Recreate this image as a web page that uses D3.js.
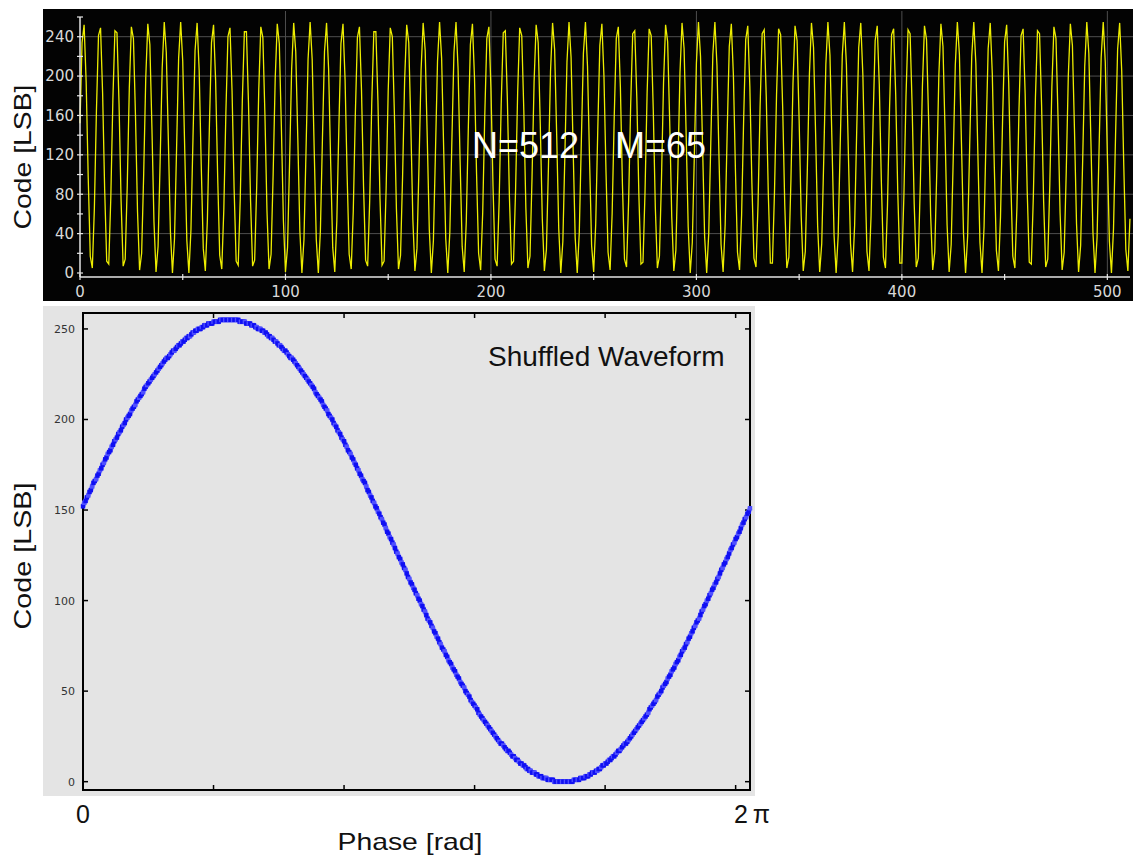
<!DOCTYPE html>
<html>
<head>
<meta charset="utf-8">
<script src="https://cdn.jsdelivr.net/npm/d3@7"></script>
<style>
  html, body { margin: 0; padding: 0; background: #fff; }
  svg { display: block; }
</style>
</head>
<body>
<div id="chart"></div>
<script>
// record length and number of cycles (the N=512 M=65 annotation)
const N = 512;
const M = 65;

// ADC codes sorted by phase (the shuffled waveform), one per phase bin 0..N-1
const phaseCodes = [
  152,154,155,157,158,160,161,163,165,166,167,169,170,172,173,175,
  176,178,179,181,182,183,185,186,188,189,190,192,193,194,196,197,
  198,200,201,202,203,205,206,207,208,210,211,212,213,214,215,217,
  218,219,220,221,222,223,224,225,226,227,228,229,230,231,232,233,
  234,234,235,236,237,238,238,239,240,241,241,242,243,243,244,245,
  245,246,246,247,248,248,249,249,250,250,250,251,251,252,252,252,
  253,253,253,253,254,254,254,254,254,255,255,255,255,255,255,255,
  255,
  255,255,255,255,255,255,255,254,254,254,254,254,253,253,253,253,
  252,252,252,251,251,250,250,250,249,249,248,248,247,246,246,245,
  245,244,243,243,242,241,241,240,239,238,238,237,236,235,234,234,
  233,232,231,230,229,228,227,226,225,224,223,222,221,220,219,218,
  217,215,214,213,212,211,210,208,207,206,205,203,202,201,200,198,
  197,196,194,193,192,190,189,188,186,185,183,182,181,179,178,176,
  175,173,172,170,169,167,166,165,163,161,160,158,157,155,154,152,
  151,149,148,146,145,143,142,140,138,137,135,134,132,131,129,
  127,
  126,124,123,121,120,118,117,115,113,112,110,109,107,106,104,
  103,101,100,98,97,95,94,92,90,89,88,86,85,83,82,80,
  79,77,76,74,73,72,70,69,67,66,65,63,62,61,59,58,
  57,55,54,53,52,50,49,48,47,45,44,43,42,41,40,38,
  37,36,35,34,33,32,31,30,29,28,27,26,25,24,23,22,
  21,21,20,19,18,17,17,16,15,14,14,13,12,12,11,10,
  10,9,9,8,7,7,6,6,5,5,5,4,4,3,3,3,
  2,2,2,2,1,1,1,1,1,0,0,0,0,0,0,0,
  0,
  0,0,0,0,0,0,0,1,1,1,1,1,2,2,2,2,
  3,3,3,4,4,5,5,5,6,6,7,7,8,9,9,10,
  10,11,12,12,13,14,14,15,16,17,17,18,19,20,21,21,
  22,23,24,25,26,27,28,29,30,31,32,33,34,35,36,37,
  38,40,41,42,43,44,45,47,48,49,50,52,53,54,55,57,
  58,59,61,62,63,65,66,67,69,70,72,73,74,76,77,79,
  80,82,83,85,86,88,89,90,92,94,95,97,98,100,101,103,
  104,106,107,109,110,112,113,115,117,118,120,121,123,124,126,
  128,129,131,132,134,135,137,138,140,142,143,145,146,148,149,151
];

// tick values
const timeYTicks = [0, 40, 80, 120, 160, 200, 240];
const timeYMinor = [20, 60, 100, 140, 180, 220, 260];
const timeXTicks = [0, 100, 200, 300, 400, 500];
const timeXMinor = [50, 150, 250, 350, 450];
const phaseXTicks = [100, 200, 300, 400, 500];
const phaseYTicks = [0, 50, 100, 150, 200, 250];
const phaseEndLabels = ['0', '2\u2009\u03c0'];

// sample n lands in phase bin (M*n mod N)
const timeSamples = d3.range(N).map(n => ({ n, code: phaseCodes[(M * n) % N] }));
const phaseSamples = phaseCodes.map((code, k) => ({ k, code }));

const W = 1136, H = 857;
const svg = d3.select('#chart').append('svg')
  .attr('width', W)
  .attr('height', H)
  .style('font-family', 'Arial, "Liberation Sans", sans-serif');

svg.append('rect').attr('width', W).attr('height', H).attr('fill', '#fff');

// ---------- top: time-domain record ----------
const timePanel = svg.append('g');
timePanel.append('rect')
  .attr('x', 43).attr('y', 9)
  .attr('width', 1090).attr('height', 292)
  .attr('fill', '#030303');

const xT = d3.scaleLinear().domain([0, N]).range([80, 1132]);
const yT = d3.scaleLinear().domain([0, 260]).range([273, 17]);

// grid
timePanel.append('g')
  .selectAll('line')
  .data(timeYTicks.slice(1))
  .join('line')
  .attr('x1', 80).attr('x2', 1133)
  .attr('y1', d => yT(d)).attr('y2', d => yT(d))
  .attr('stroke', '#4f4f4f').attr('stroke-width', 1);

timePanel.append('g')
  .selectAll('line')
  .data(timeXTicks.slice(1))
  .join('line')
  .attr('x1', d => xT(d)).attr('x2', d => xT(d))
  .attr('y1', 11).attr('y2', 277)
  .attr('stroke', '#4f4f4f').attr('stroke-width', 1);

// waveform
const lineT = d3.line()
  .x(d => xT(d.n))
  .y(d => yT(d.code));

timePanel.append('path')
  .datum(timeSamples)
  .attr('fill', 'none')
  .attr('stroke', '#eded00')
  .attr('stroke-width', 1.3)
  .attr('stroke-linejoin', 'miter')
  .attr('d', lineT);

// y axis (white, ticks on both sides)
const axisCol = '#e6e6e6';
timePanel.append('line')
  .attr('x1', 80).attr('x2', 80)
  .attr('y1', yT(260)).attr('y2', 277)
  .attr('stroke', axisCol).attr('stroke-width', 1.5);

timePanel.append('g')
  .selectAll('line')
  .data(timeYTicks.concat(timeYMinor))
  .join('line')
  .attr('x1', 77).attr('x2', 83)
  .attr('y1', d => yT(d)).attr('y2', d => yT(d))
  .attr('stroke', axisCol).attr('stroke-width', 1.2);

timePanel.append('g')
  .selectAll('text')
  .data(timeYTicks)
  .join('text')
  .attr('x', 74)
  .attr('y', d => yT(d))
  .attr('dy', '0.36em')
  .attr('text-anchor', 'end')
  .attr('fill', '#d9d9d9')
  .style('font-family', '"DejaVu Sans", sans-serif')
  .style('font-size', '15px')
  .text(d => d);

// x axis
timePanel.append('line')
  .attr('x1', 80).attr('x2', 1130)
  .attr('y1', 277).attr('y2', 277)
  .attr('stroke', axisCol).attr('stroke-width', 1.5);

timePanel.append('g')
  .selectAll('line')
  .data(timeXTicks.concat(timeXMinor))
  .join('line')
  .attr('x1', d => xT(d)).attr('x2', d => xT(d))
  .attr('y1', 274).attr('y2', 280)
  .attr('stroke', axisCol).attr('stroke-width', 1.2);

timePanel.append('g')
  .selectAll('text')
  .data(timeXTicks)
  .join('text')
  .attr('x', d => xT(d))
  .attr('y', 292)
  .attr('dy', '0.36em')
  .attr('text-anchor', 'middle')
  .attr('fill', '#d9d9d9')
  .style('font-family', '"DejaVu Sans", sans-serif')
  .style('font-size', '15px')
  .text(d => d);

// annotation
timePanel.append('text')
  .attr('x', 472).attr('y', 158)
  .attr('fill', '#fff')
  .style('font-size', '36px')
  .text('N=' + N);
timePanel.append('text')
  .attr('x', 615).attr('y', 158)
  .attr('fill', '#fff')
  .style('font-size', '36px')
  .text('M=' + M);

// y label
svg.append('text')
  .attr('transform', 'translate(31,157) rotate(-90)')
  .attr('text-anchor', 'middle')
  .attr('textLength', 145)
  .attr('lengthAdjust', 'spacingAndGlyphs')
  .attr('fill', '#111')
  .style('font-size', '24px')
  .text('Code [LSB]');

// ---------- bottom: shuffled waveform ----------
const phasePanel = svg.append('g');
phasePanel.append('rect')
  .attr('x', 43).attr('y', 306)
  .attr('width', 712).attr('height', 490)
  .attr('fill', '#e4e4e4');

const xB = d3.scaleLinear().domain([0, N - 1]).range([83, 750]);
const yB = d3.scaleLinear().domain([-4.6, 258.8]).range([790, 313]);

// inward ticks on all four sides
const tickLen = 5;
phasePanel.append('g')
  .selectAll('line')
  .data(phaseXTicks)
  .join('line')
  .attr('x1', d => xB(d)).attr('x2', d => xB(d))
  .attr('y1', 790).attr('y2', 790 - tickLen)
  .attr('stroke', '#000').attr('stroke-width', 1.5);
phasePanel.append('g')
  .selectAll('line')
  .data(phaseXTicks)
  .join('line')
  .attr('x1', d => xB(d)).attr('x2', d => xB(d))
  .attr('y1', 313).attr('y2', 313 + tickLen)
  .attr('stroke', '#000').attr('stroke-width', 1.5);
phasePanel.append('g')
  .selectAll('line')
  .data(phaseYTicks)
  .join('line')
  .attr('x1', 83).attr('x2', 83 + tickLen)
  .attr('y1', d => yB(d)).attr('y2', d => yB(d))
  .attr('stroke', '#000').attr('stroke-width', 1.5);
phasePanel.append('g')
  .selectAll('line')
  .data(phaseYTicks)
  .join('line')
  .attr('x1', 750).attr('x2', 750 - tickLen)
  .attr('y1', d => yB(d)).attr('y2', d => yB(d))
  .attr('stroke', '#000').attr('stroke-width', 1.5);

phasePanel.append('g')
  .selectAll('text')
  .data(phaseYTicks)
  .join('text')
  .attr('x', 75)
  .attr('y', d => yB(d))
  .attr('dy', '0.36em')
  .attr('text-anchor', 'end')
  .attr('fill', '#333')
  .style('font-family', '"DejaVu Sans", sans-serif')
  .style('font-size', '11px')
  .text(d => d);

// frame
phasePanel.append('rect')
  .attr('x', 83).attr('y', 313)
  .attr('width', 750 - 83).attr('height', 790 - 313)
  .attr('fill', 'none')
  .attr('stroke', '#000').attr('stroke-width', 2);

// points
phasePanel.append('path')
  .datum(phaseSamples)
  .attr('fill', 'none')
  .attr('stroke', '#8a8aff')
  .attr('stroke-width', 5)
  .attr('d', d3.line().x(d => xB(d.k)).y(d => yB(d.code)));

phasePanel.append('g')
  .selectAll('rect')
  .data(phaseSamples)
  .join('rect')
  .attr('x', d => xB(d.k) - 2.2)
  .attr('y', d => yB(d.code) - 2.2)
  .attr('width', 4.4)
  .attr('height', 4.4)
  .attr('fill', (d, i) => i % 3 === 1 ? '#5050ff' : '#1010f2');

phasePanel.append('text')
  .attr('x', 488).attr('y', 366)
  .attr('fill', '#111')
  .style('font-size', '28px')
  .text('Shuffled Waveform');

// phase axis labels under the panel
svg.append('text')
  .attr('x', xB(0)).attr('y', 823)
  .attr('text-anchor', 'middle')
  .attr('fill', '#111')
  .style('font-size', '25px')
  .text(phaseEndLabels[0]);
svg.append('text')
  .attr('x', 752).attr('y', 823)
  .attr('text-anchor', 'middle')
  .attr('fill', '#111')
  .style('font-size', '25px')
  .text(phaseEndLabels[1]);

svg.append('text')
  .attr('x', 410).attr('y', 850)
  .attr('text-anchor', 'middle')
  .attr('textLength', 145)
  .attr('lengthAdjust', 'spacingAndGlyphs')
  .attr('fill', '#111')
  .style('font-size', '24px')
  .text('Phase [rad]');

svg.append('text')
  .attr('transform', 'translate(31,556) rotate(-90)')
  .attr('text-anchor', 'middle')
  .attr('textLength', 147)
  .attr('lengthAdjust', 'spacingAndGlyphs')
  .attr('fill', '#111')
  .style('font-size', '24px')
  .text('Code [LSB]');
</script>
</body>
</html>
